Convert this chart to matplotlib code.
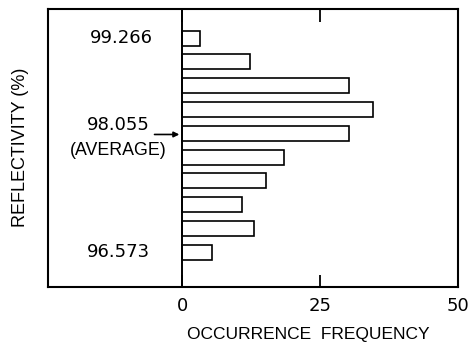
import numpy as np
import matplotlib.pyplot as plt

plt.rcParams['font.family'] = ['Liberation Sans', 'DejaVu Sans']

# reflectivity bins (%), top to bottom
reflectivity = [99.266, 98.967, 98.668, 98.368, 98.069, 97.770, 97.471, 97.172, 96.872, 96.573]
frequency = [3.3, 12.3, 30.3, 34.6, 30.3, 18.5, 15.2, 10.9, 13.0, 5.4]
average = 98.055
xticks = [0, 25, 50]

fig = plt.figure(figsize=(4.69, 3.45), dpi=100)
ax = fig.add_axes([48/469, 1-287/345, 410/469, 278/345])

ax.barh(reflectivity, frequency, height=0.19, color='white', edgecolor='black', linewidth=1.2)
ax.axvline(0, color='black', linewidth=1.4)

ax.set_xlim(-24.3, 50)
ax.set_ylim(96.138, 99.632)
ax.set_xticks(xticks)
ax.set_xticklabels([str(t) for t in xticks], fontsize=13, family='DejaVu Sans')
ax.tick_params(axis='x', direction='in', length=9, width=1.3, top=True, pad=7)
ax.set_yticks([])
for s in ax.spines.values():
    s.set_linewidth(1.5)

num = dict(fontsize=13, family='DejaVu Sans')
ax.text(-5.3, reflectivity[0], '99.266', ha='right', va='center', **num)
ax.text(-5.8, reflectivity[-1], '96.573', ha='right', va='center', **num)
ax.text(-5.8, average, '98.055', ha='right', va='bottom', **num)
ax.text(-11.6, 97.859, '(AVERAGE)', ha='center', va='center', fontsize=12.8)
ax.annotate('', xy=(0, average), xytext=(-5.5, average),
            arrowprops=dict(arrowstyle='-|>', color='black', lw=1.2, mutation_scale=8))

fig.text(308/469, 1-334/345, 'OCCURRENCE  FREQUENCY', fontsize=12.5, ha='center', va='center')
fig.text(21/469, 1-147/345, 'REFLECTIVITY (%)', fontsize=13, rotation=90, ha='center', va='center')

plt.savefig('out.png', dpi=100)
